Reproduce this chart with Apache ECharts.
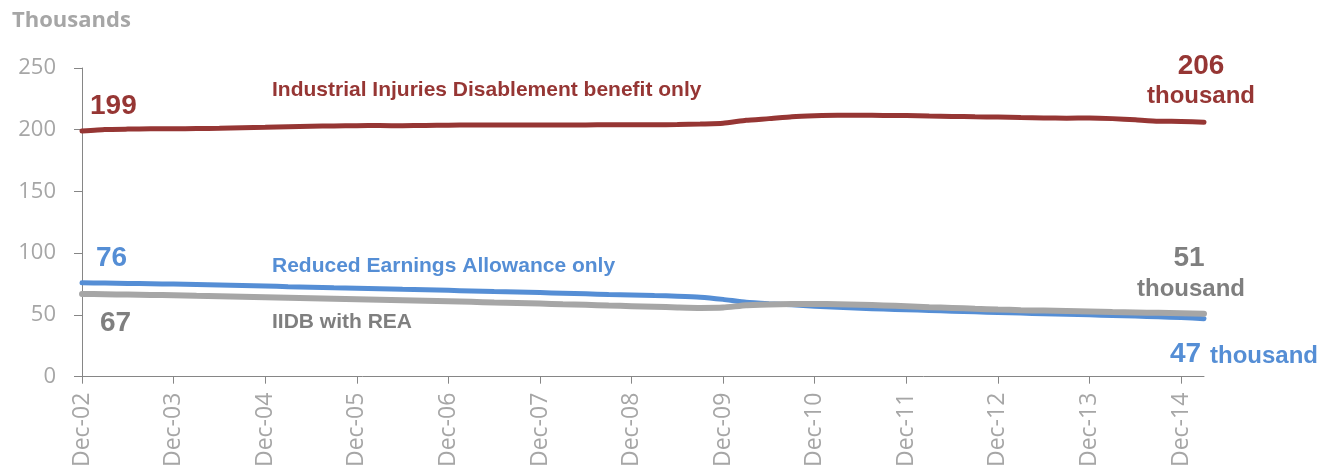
<!DOCTYPE html>
<html><head><meta charset="utf-8">
<script src="https://cdn.jsdelivr.net/npm/echarts@6/dist/echarts.min.js"></script>
<style>html,body{margin:0;padding:0;background:#fff}#c{width:1318px;height:470px}</style>
</head><body><div id="c"></div><script>
const categories = ['Dec-02','Mar-03','Jun-03','Sep-03','Dec-03','Mar-04','Jun-04','Sep-04','Dec-04','Mar-05','Jun-05','Sep-05','Dec-05','Mar-06','Jun-06','Sep-06','Dec-06','Mar-07','Jun-07','Sep-07','Dec-07','Mar-08','Jun-08','Sep-08','Dec-08','Mar-09','Jun-09','Sep-09','Dec-09','Mar-10','Jun-10','Sep-10','Dec-10','Mar-11','Jun-11','Sep-11','Dec-11','Mar-12','Jun-12','Sep-12','Dec-12','Mar-13','Jun-13','Sep-13','Dec-13','Mar-14','Jun-14','Sep-14','Dec-14','Mar-15'];

const iidbOnly = [199,200.2,200.5,200.7,200.8,201.0,201.2,201.6,202.0,202.5,202.9,203.1,203.3,203.4,203.2,203.5,203.7,203.9,203.8,203.8,203.9,203.8,203.9,204.1,204.0,204.0,204.2,204.6,205.3,207.6,209.0,210.6,211.4,211.8,211.7,211.6,211.5,211.1,210.8,210.5,210.3,209.9,209.6,209.4,209.5,209.0,208.0,206.9,206.7,206];

const reaOnly = [76,75.8,75.5,75.3,75.0,74.6,74.2,73.8,73.4,72.9,72.5,72.0,71.6,71.2,70.8,70.4,69.9,69.4,68.9,68.5,68.1,67.6,67.1,66.6,66.2,65.7,65.2,64.4,62.6,60.3,59.1,58.2,57.0,56.2,55.4,54.8,54.2,53.6,53.0,52.5,52.0,51.5,51.0,50.6,50.1,49.6,49.1,48.5,47.9,47];

const iidbWithRea = [67,66.8,66.5,66.2,65.9,65.5,65.1,64.7,64.3,63.9,63.5,63.1,62.7,62.3,61.9,61.5,61.1,60.6,60.1,59.7,59.2,58.7,58.2,57.6,57.1,56.6,56.1,55.7,56.0,57.8,58.4,58.8,58.9,58.7,58.3,57.7,57.0,56.3,55.7,55.0,54.4,53.9,53.5,53.1,52.7,52.3,52.0,51.7,51.4,51];

const yTicks = {min: 0, max: 250, interval: 50};

const RED = '#963634', BLUE = '#558ED5', GRAY = '#A6A6A6', GRAYTXT = '#7F7F7F';
const chart = echarts.init(document.getElementById('c'));
const last = a => Math.round(a[a.length - 1]);
const first = a => Math.round(a[0]);
const isDec = (i, v) => String(v).indexOf('Dec') === 0;

function txt(text, x, y, size, color, align) {
  return {type: 'text', x: x, y: y, style: {text: text, font: 'bold ' + size + 'px "Liberation Sans", Arial, sans-serif', fill: color, textAlign: align || 'left', textVerticalAlign: 'middle'}};
}

chart.setOption({
  animation: false,
  grid: {left: 82, right: 114, top: 68, bottom: 92},
  xAxis: {
    type: 'category', data: categories, boundaryGap: false,
    axisLine: {lineStyle: {color: '#868686', width: 1}},
    axisTick: {interval: isDec, length: 7, lineStyle: {color: '#868686'}},
    axisLabel: {interval: isDec, rotate: 90, margin: 16, color: GRAY, fontSize: 23, fontFamily: '"Open Sans", sans-serif'},
    splitLine: {show: false}
  },
  yAxis: {
    type: 'value', min: yTicks.min, max: yTicks.max, interval: yTicks.interval,
    axisLine: {show: true, lineStyle: {color: '#868686', width: 1}},
    axisTick: {show: true, length: 8, lineStyle: {color: '#868686'}},
    axisLabel: {margin: 26, color: GRAY, fontSize: 22, fontFamily: '"Open Sans", sans-serif'},
    splitLine: {show: false}
  },
  series: [
    {type: 'line', data: iidbOnly, symbol: 'none', smooth: 0.15, lineStyle: {color: RED, width: 5, cap: 'round'}, z: 2},
    {type: 'line', data: reaOnly, symbol: 'none', smooth: 0.15, lineStyle: {color: BLUE, width: 5, cap: 'round'}, z: 3},
    {type: 'line', data: iidbWithRea, symbol: 'none', smooth: 0.15, lineStyle: {color: GRAY, width: 6, cap: 'round'}, z: 4}
  ],
  graphic: [
    {type: 'text', x: 12, y: 21, style: {text: 'Thousands', font: 'bold 22px "Open Sans", sans-serif', fill: GRAY, textVerticalAlign: 'middle'}},
    txt(String(first(iidbOnly)), 90, 106, 28, RED),
    txt('Industrial Injuries Disablement benefit only', 272, 90, 21, RED),
    txt(String(last(iidbOnly)), 1201, 66, 28, RED, 'center'),
    txt('thousand', 1201, 96, 24, RED, 'center'),
    txt(String(first(reaOnly)), 96, 258, 28, BLUE),
    txt('Reduced Earnings Allowance only', 272, 266, 21, BLUE),
    txt(String(first(iidbWithRea)), 100, 323, 28, GRAYTXT),
    txt('IIDB with REA', 272, 322, 21, GRAYTXT),
    txt(String(last(iidbWithRea)), 1189, 258, 28, GRAYTXT, 'center'),
    txt('thousand', 1191, 289, 24, GRAYTXT, 'center'),
    txt(String(last(reaOnly)), 1170, 354, 28, BLUE),
    txt('thousand', 1210, 356, 24, BLUE)
  ]
});
</script></body></html>
